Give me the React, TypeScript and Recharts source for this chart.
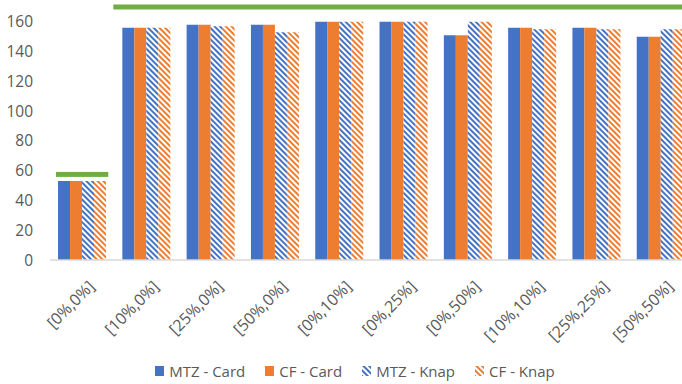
import {
  Bar,
  BarChart,
  ReferenceArea,
  XAxis,
  YAxis,
} from "recharts";

// Scenario labels: [x%, y%] perturbation levels
const scenarios = [
  "[0%,0%]",
  "[10%,0%]",
  "[25%,0%]",
  "[50%,0%]",
  "[0%,10%]",
  "[0%,25%]",
  "[0%,50%]",
  "[10%,10%]",
  "[25%,25%]",
  "[50%,50%]",
];

const mtzCard = [53, 156, 158, 158, 160, 160, 151, 156, 156, 150];
const cfCard = [53, 156, 158, 158, 160, 160, 151, 156, 156, 150];
const mtzKnap = [53, 156, 157, 153, 160, 160, 160, 155, 155, 155];
const cfKnap = [53, 156, 157, 153, 160, 160, 160, 155, 155, 155];

// Upper bound marks drawn as green bars over a range of scenarios
const bounds = [
  { from: "[0%,0%]", to: "[0%,0%]", value: 57.5 },
  { from: "[10%,0%]", to: "[50%,50%]", value: 170 },
];

const yTicks = [0, 20, 40, 60, 80, 100, 120, 140, 160];

const COLORS = {
  blue: "#4472C4",
  orange: "#ED7D31",
  green: "#70AD47",
  text: "#595959",
  axis: "#D9D9D9",
} as const;

const FONT = "'Open Sans', sans-serif";

const rows = scenarios.map((s, i) => ({
  scenario: s,
  mtzCard: mtzCard[i],
  cfCard: cfCard[i],
  mtzKnap: mtzKnap[i],
  cfKnap: cfKnap[i],
}));

const series = [
  { key: "mtzCard", name: "MTZ - Card", fill: COLORS.blue },
  { key: "cfCard", name: "CF - Card", fill: COLORS.orange },
  { key: "mtzKnap", name: "MTZ - Knap", fill: "url(#stripeBlue)" },
  { key: "cfKnap", name: "CF - Knap", fill: "url(#stripeOrange)" },
];

function ScenarioTick({ x, y, payload }: any) {
  const ax = x + 5;
  return (
    <text
      x={ax}
      y={y}
      dy="0.75em"
      textAnchor="end"
      transform={`rotate(-45, ${ax}, ${y})`}
      fontSize={16}
      fontFamily={FONT}
      fill={COLORS.text}
    >
      {payload.value}
    </text>
  );
}

function BoundShape(inset: number) {
  return (props: any) => {
    const { x, y, width, height } = props;
    return (
      <rect
        x={x + inset}
        y={y + height / 2 - 2.5}
        width={width - inset * 2}
        height={5}
        fill={COLORS.green}
      />
    );
  };
}

function LegendRow() {
  return (
    <div
      style={{
        position: "absolute",
        left: 0,
        top: 361,
        width: 710,
        display: "flex",
        justifyContent: "center",
        gap: 20,
        fontFamily: FONT,
        fontSize: 15,
        color: COLORS.text,
      }}
    >
      {series.map((s) => (
        <div key={s.key} style={{ display: "flex", alignItems: "center", gap: 5 }}>
          <svg width={9} height={10}>
            <rect width={9} height={10} fill={s.fill} />
          </svg>
          <span>{s.name}</span>
        </div>
      ))}
    </div>
  );
}

export default function App() {
  return (
    <div
      style={{
        position: "fixed",
        left: 0,
        top: 0,
        width: 682,
        height: 384,
        overflow: "hidden",
        background: "#fff",
      }}
    >
      <BarChart
        width={700}
        height={384}
        data={rows}
        margin={{ top: 4, right: 7, bottom: 44, left: 0 }}
        barCategoryGap="12.5%"
        barGap={0}
      >
        <defs>
          <pattern
            id="stripeBlue"
            width={4}
            height={4}
            patternUnits="userSpaceOnUse"
            patternTransform="rotate(-45)"
          >
            <rect width={4} height={4} fill="#fff" />
            <rect width={2} height={4} fill={COLORS.blue} />
          </pattern>
          <pattern
            id="stripeOrange"
            width={4}
            height={4}
            patternUnits="userSpaceOnUse"
            patternTransform="rotate(-45)"
          >
            <rect width={4} height={4} fill="#fff" />
            <rect width={2} height={4} fill={COLORS.orange} />
          </pattern>
        </defs>
        <XAxis
          dataKey="scenario"
          height={80}
          interval={0}
          tickLine={false}
          tickMargin={13}
          axisLine={{ stroke: COLORS.axis, strokeWidth: 1.5 }}
          tick={<ScenarioTick />}
        />
        <YAxis
          width={50}
          domain={[0, 172]}
          ticks={yTicks}
          axisLine={false}
          tickLine={false}
          tickSize={0}
          tickMargin={17}
          tick={{ fontSize: 15.5, fontFamily: FONT, fill: COLORS.text }}
        />
        {series.map((s) => (
          <Bar
            key={s.key}
            dataKey={s.key}
            name={s.name}
            fill={s.fill}
            isAnimationActive={false}
          />
        ))}
        {bounds.map((b, i) => (
          <ReferenceArea
            key={i}
            x1={b.from}
            x2={b.to}
            y1={b.value - 1}
            y2={b.value + 1}
            shape={BoundShape(i === 0 ? 6 : -1)}
          />
        ))}
      </BarChart>
      <LegendRow />
    </div>
  );
}
